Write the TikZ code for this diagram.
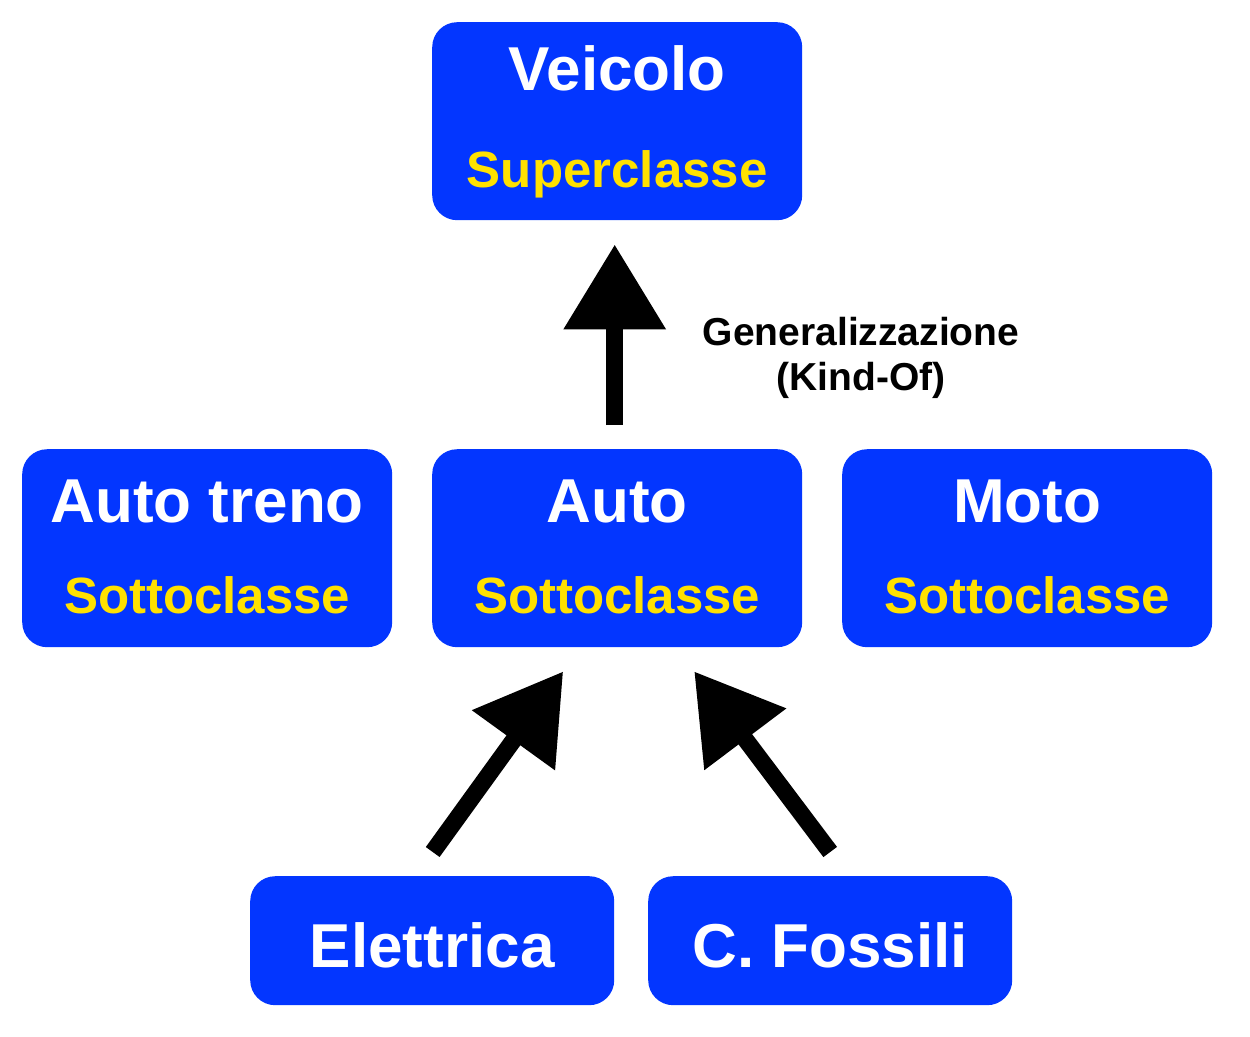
\documentclass[tikz,border=0pt]{standalone}
\usepackage{fontspec}
\setmainfont{Liberation Sans}
\usetikzlibrary{arrows.meta,calc}
\definecolor{boxblue}{HTML}{0336FF}
\definecolor{subyellow}{HTML}{FFE100}
\begin{document}
\begin{tikzpicture}[x=1pt,y=-1pt,
  box/.style={draw=none, fill=boxblue, rounded corners=25pt, inner sep=0pt, anchor=north west},
  bigbox/.style={box, minimum width=370pt, minimum height=198pt},
  smallbox/.style={box, minimum width=364pt, minimum height=129pt},
  title/.style={text=white, font=\fontsize{62}{62}\selectfont\bfseries, anchor=base, inner sep=0pt},
  sub/.style={text=subyellow, font=\fontsize{51}{51}\selectfont\bfseries, anchor=base, inner sep=0pt},
  genlabel/.style={text=black, font=\fontsize{39}{39}\selectfont\bfseries, anchor=base, inner sep=0pt},
  gen/.style={line width=17pt, -{Triangle[length=85pt,width=98pt]}},
]
\useasboundingbox (0,0) rectangle (1250,1036);
% boxes
\node[bigbox] (veicolo) at (432,22) {};
\node[bigbox] (autotreno) at (22,449) {};
\node[bigbox] (auto) at (432,449) {};
\node[bigbox] (moto) at (842,449) {};
\node[smallbox] (elettrica) at (250,876) {};
\node[smallbox] (fossili) at (648,876) {};
% texts
\node[title] (veicoloT) at ($(veicolo.north)+(0,68)$) {Veicolo};
\node[sub] (veicoloS) at ($(veicolo.south)+(0,-33)$) {Superclasse};
\node[title] (autotrenoT) at ($(autotreno.north)+(0,73)$) {Auto treno};
\node[sub] (autotrenoS) at ($(autotreno.south)+(0,-34)$) {Sottoclasse};
\node[title] (autoT) at ($(auto.north)+(0,73)$) {Auto};
\node[sub] (autoS) at ($(auto.south)+(0,-34)$) {Sottoclasse};
\node[title] (motoT) at ($(moto.north)+(0,73)$) {Moto};
\node[sub] (motoS) at ($(moto.south)+(0,-34)$) {Sottoclasse};
\node[title] (elettricaT) at ($(elettrica.north)+(0,91)$) {Elettrica};
\node[title] (fossiliT) at ($(fossili.north)+(0,91)$) {C. Fossili};
% label
\node[genlabel] (genA) at (861,345) {Generalizzazione};
\node[genlabel] (genB) at (861,390) {(Kind-Of)};
% connectors
\draw[gen] ($(auto.north)+(-2.5,-24)$) -- ($(veicolo.south)+(-2.5,24)$);
\draw[gen] ($(elettrica.north)+(0.5,-24)$) -- ($(auto.south)+(-54,24)$);
\draw[gen] ($(fossili.north)+(0,-24)$) -- ($(auto.south)+(77,24)$);
\end{tikzpicture}
\end{document}
